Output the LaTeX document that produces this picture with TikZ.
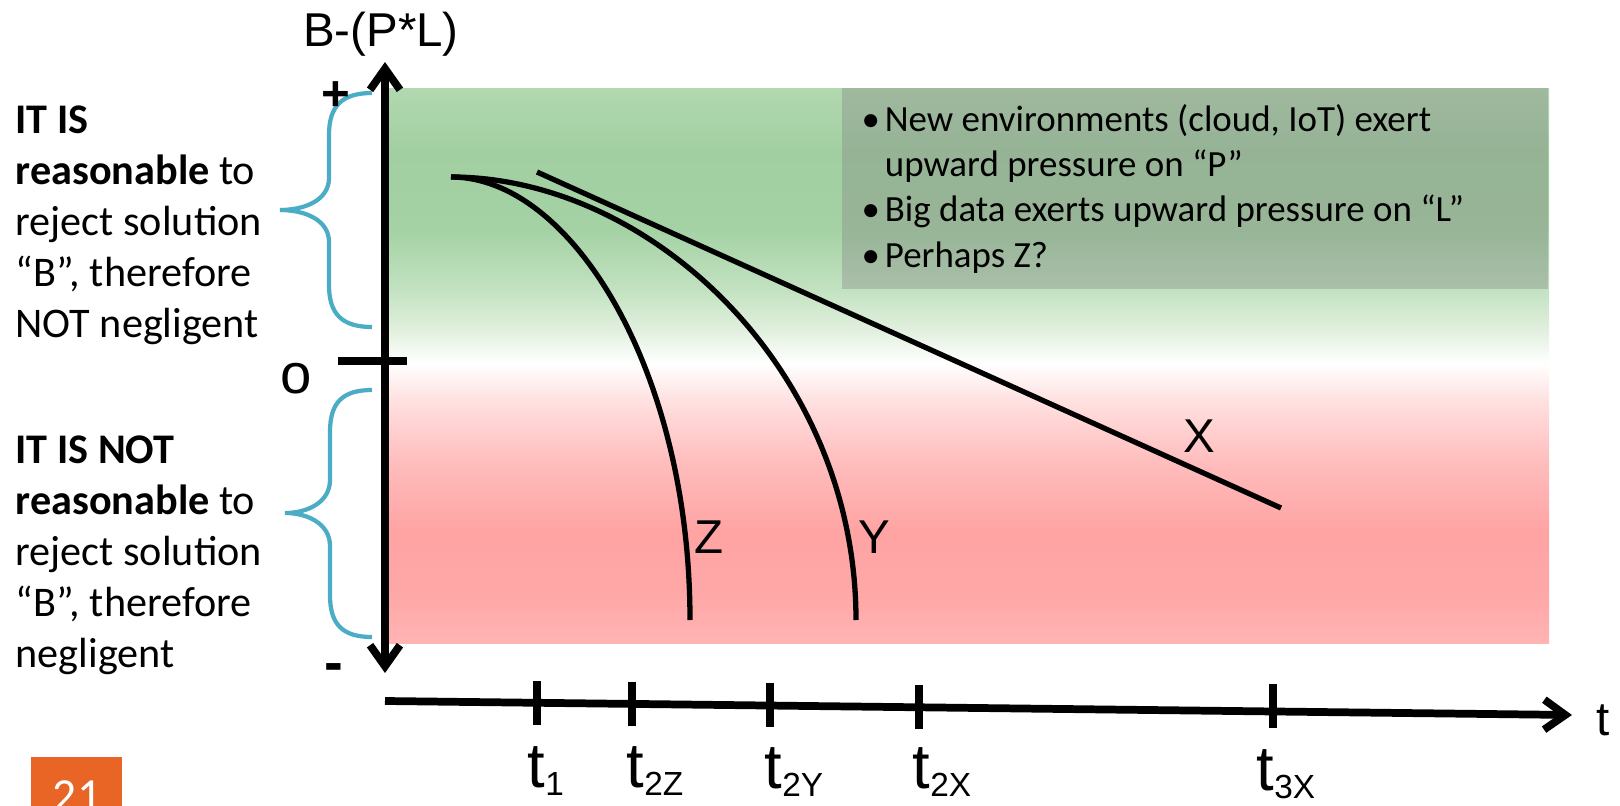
\documentclass[tikz,border=0pt]{standalone}
\usepackage{fontspec}
\setmainfont{Carlito}
\newfontfamily\axisfont{Liberation Sans}
\usetikzlibrary{arrows.meta}
\definecolor{bracecyan}{RGB}{75,172,198}
\definecolor{slideorange}{RGB}{232,101,37}
\definecolor{zonepinkbot}{RGB}{255,180,180}
\definecolor{zonepinka}{RGB}{255,168,168}
\definecolor{zonepinkb}{RGB}{255,163,163}
\definecolor{zonepinkc}{RGB}{255,190,190}
\definecolor{zonepinkd}{RGB}{255,225,225}
\definecolor{zonegreena}{RGB}{225,240,222}
\definecolor{zonegreenb}{RGB}{195,226,193}
\definecolor{zonegreenc}{RGB}{165,210,165}
\definecolor{zonegreend}{RGB}{162,207,162}
\definecolor{zonegreentop}{RGB}{178,216,176}
\pgfdeclareverticalshading{zoneshade}{100bp}{%
  color(0bp)=(zonepinkbot); color(25bp)=(zonepinkbot);
  color(29bp)=(zonepinka); color(35bp)=(zonepinkb);
  color(41.5bp)=(zonepinkc); color(46.9bp)=(zonepinkd);
  color(50.2bp)=(white); color(53.2bp)=(zonegreena);
  color(56.8bp)=(zonegreenb); color(62.2bp)=(zonegreenc);
  color(69.4bp)=(zonegreend); color(75bp)=(zonegreentop);
  color(100bp)=(zonegreentop)}
\newlength\notebulw
\setlength\notebulw{6.6pt}
\newcommand\notebullet{\makebox[\notebulw][l]{\textbullet}}
\newcommand\tsub[1]{\raisebox{-2.5pt}{\fontsize{9.5}{9.5}\selectfont #1}}

\begin{document}
\begin{tikzpicture}[
  x=0.01cm, y=-0.01cm,
  >={Straight Barb[length=6pt, width=8.5pt]},
  axis/.style={line width=2.2pt},
  tickmark/.style={line width=2pt},
  curve/.style={line width=1.5pt},
  bracecurve/.style={draw=bracecyan, line width=1.2pt},
  axislabel/.style={font=\axisfont\fontsize{13.5}{16}\selectfont, inner sep=0pt},
  ticklabel/.style={font=\axisfont\fontsize{18}{20}\selectfont, inner sep=0pt, anchor=base west},
  sidetext/.style={font=\fontsize{12}{14.5}\selectfont, align=left, inner sep=0pt, anchor=base west},
  notetext/.style={font=\fontsize{10.5}{12.8}\selectfont, align=left, inner sep=0pt, anchor=base west}
]
  \path[use as bounding box, clip] (0,0) rectangle (1620,806);
  \fill[white] (0,0) rectangle (1620,806);

  % zones and note box (multi-line nodes sit on their last baseline)
  \shade[shading=zoneshade] (388,88) rectangle (1549,643);
  \fill[gray, fill opacity=0.35] (842,88) rectangle (1548,289);
  \node[notetext] (notes) at (861,267) {\notebullet New environments (cloud, IoT) exert\\
    \hspace*{\notebulw}upward pressure on “P”\\
    \notebullet Big data exerts upward pressure on “L”\\
    \notebullet Perhaps Z?};

  % side texts and braces
  \node[sidetext] (upperzone) at (15,337) {\textbf{IT IS}\\ \textbf{reasonable} to\\ reject solution\\ “B”, therefore\\ NOT negligent};
  \node[sidetext] (lowerzone) at (15,667) {\textbf{IT IS NOT}\\ \textbf{reasonable} to\\ reject solution\\ “B”, therefore\\ negligent};
  \draw[bracecurve] (372,93) .. controls (342,93) and (329,106) .. (329,135) -- (329,178)
    .. controls (329,200) and (305,210) .. (280,210) .. controls (305,210) and (329,220) .. (329,242)
    -- (329,285) .. controls (329,314) and (342,327) .. (372,327);
  \draw[bracecurve] (372,390) .. controls (342,390) and (330,403) .. (330,432) -- (330,480)
    .. controls (330,502) and (308,513) .. (285,513) .. controls (308,513) and (330,524) .. (330,546)
    -- (330,595) .. controls (330,624) and (342,637) .. (372,637);

  % axes
  \coordinate (ytop) at (385,62);
  \coordinate (ybot) at (385,673);
  \coordinate (torig) at (385,701);
  \coordinate (tend) at (1572,715);
  \draw[axis, <->] (ytop) -- (ybot);
  \draw[axis, ->] (torig) -- (tend);
  \draw[axis] (338,361) -- (407,361);
  \node[axislabel, anchor=base] (ylabel) at (381,46) {B-(P*L)};
  \node[axislabel, font=\axisfont\bfseries\fontsize{14}{16}\selectfont] (plus) at (336,96) {+};
  \node[axislabel, font=\axisfont\fontsize{16}{18}\selectfont] (zero) at (296,379) {o};
  \node[axislabel, font=\axisfont\bfseries\fontsize{16}{18}\selectfont] (minus) at (334,673) {-};
  \node[axislabel, anchor=base] (tlabel) at (1603,735) {t};

  % ticks on the time axis
  \draw[tickmark] (537,681) -- (537,725);
  \draw[tickmark] (632,682) -- (632,726);
  \draw[tickmark] (770,683) -- (770,727);
  \draw[tickmark] (919,685) -- (919,729);
  \draw[tickmark] (1273,684) -- (1273,728);
  \node[ticklabel] (t1) at (527,787) {t\tsub{1}};
  \node[ticklabel] (t2z) at (626,787) {t\tsub{2Z}};
  \node[ticklabel] (t2y) at (764,788) {t\tsub{2Y}};
  \node[ticklabel] (t2x) at (912,788) {t\tsub{2X}};
  \node[ticklabel] (t3x) at (1256,790) {t\tsub{3X}};

  % scenario curves
  \coordinate (split) at (451,177);
  \coordinate (zend) at (690,620);
  \coordinate (yend) at (856,620);
  \coordinate (xstart) at (537,172);
  \coordinate (xend) at (1281,508);
  \draw[curve] (split) .. controls (571,177) and (690,370) .. (zend);
  \draw[curve] (split) .. controls (651,177) and (856,370) .. (yend);
  \draw[curve] (xstart) -- (xend);
  \node[axislabel, anchor=base] (zlabel) at (709,553) {Z};
  \node[axislabel, anchor=base] (ylabel2) at (874,553) {Y};
  \node[axislabel, anchor=base] (xlabel) at (1199,452) {X};

  % slide number
  \fill[slideorange] (31,757) rectangle (122,820);
  \node[font=\fontsize{13.5}{16}\selectfont, text=white, anchor=base, inner sep=0pt] (slidenum) at (77,811) {21};
\end{tikzpicture}
\end{document}
